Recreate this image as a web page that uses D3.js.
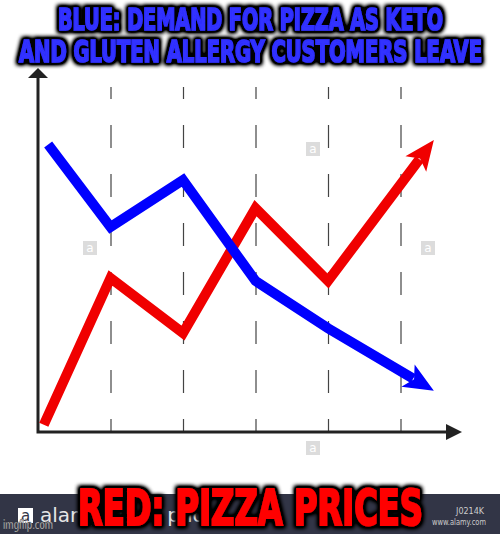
<!DOCTYPE html>
<meta charset="utf-8">
<style>
    body { margin: 0; background: #fff; }
    svg { display: block; }
    .grid line { stroke: #444; stroke-width: 1.2; stroke-dasharray: 23, 26; stroke-dashoffset: 10; }
    .grid .domain { display: none; }
    .axis { fill: none; stroke: #222; stroke-width: 3; }
    .meme { font-family: Impact, "Liberation Sans Narrow", "DejaVu Sans Condensed", sans-serif; font-weight: bold; text-anchor: middle; }
</style>
<body>
<script src="https://cdn.jsdelivr.net/npm/d3@7"></script>
<script>
    // series (x in grid steps, y on a 0-100 scale)
    var blueX = [0.14, 1, 2, 3, 4, 5.46];
    var blueY = [79, 56.3, 69.2, 41.5, 28.5, 11.3];
    var redX = [0.08, 1, 2, 3, 4, 5.46];
    var redY = [2, 42.3, 27.2, 61.5, 41.5, 80.2];
    var gridTicks = [1, 2, 3, 4, 5];

    var topLines = ["BLUE: DEMAND FOR PIZZA AS KETO", "AND GLUTEN ALLERGY CUSTOMERS LEAVE"];
    var bottomLine = "RED: PIZZA PRICES";

    var width = 500, height = 534;

    var svg = d3.select("body").append("svg")
        .attr("width", width)
        .attr("height", height);

    var defs = svg.append("defs");
    var glow = defs.append("filter").attr("id", "halo")
        .attr("x", "-10%").attr("y", "-30%").attr("width", "120%").attr("height", "160%");
    glow.append("feMorphology").attr("in", "SourceAlpha").attr("operator", "dilate").attr("radius", 2).attr("result", "fat");
    glow.append("feGaussianBlur").attr("in", "fat").attr("stdDeviation", 2).attr("result", "blur");
    glow.append("feComponentTransfer").attr("in", "blur").attr("result", "dark")
        .append("feFuncA").attr("type", "linear").attr("slope", 1.8);
    var merge = glow.append("feMerge");
    merge.append("feMergeNode").attr("in", "dark");
    merge.append("feMergeNode").attr("in", "SourceGraphic");

    var x = d3.scaleLinear().domain([0, 5]).range([38, 400.5]);
    var y = d3.scaleLinear().domain([0, 100]).range([432, 68]);

    // faint stock-photo watermarks
    var marks = [[90, 248], [313, 149], [428, 248], [313, 448]];
    var wm = svg.append("g").selectAll("g").data(marks).enter().append("g")
        .attr("transform", d => `translate(${d[0] - 7},${d[1] - 7})`);
    wm.append("rect").attr("width", 14).attr("height", 14).attr("fill", "#dcdcdc");
    wm.append("text").attr("x", 7).attr("y", 11).attr("text-anchor", "middle")
        .attr("font-family", "DejaVu Sans, sans-serif").attr("font-size", 12).attr("fill", "#fff").text("a");

    // dashed verticals (also the ticks on the x axis)
    svg.append("g")
        .attr("class", "grid")
        .attr("transform", "translate(0," + y(0) + ")")
        .call(d3.axisBottom(x).tickValues(gridTicks).tickSize(-(y(0) - 87)).tickFormat(""));

    // axes with arrows
    var x0 = x(0), y0 = y(0);
    svg.append("path").attr("class", "axis").attr("d", `M${x0},${y0 + 1.5}V${y(100) + 8}M${x0 - 1.5},${y0}H447`);
    svg.append("path").attr("fill", "#222").attr("d", `M${x0},${y(100)}L${x0 + 10},${y(100) + 10}L${x0 - 10},${y(100) + 10}Z`);
    svg.append("path").attr("fill", "#222").attr("d", `M462,${y0}L446,${y0 - 8}L446,${y0 + 8}Z`);

    function drawSeries(xs, ys, color) {
        var pts = xs.map((v, i) => [x(v), y(ys[i])]);
        var tip = pts[pts.length - 1], prev = pts[pts.length - 2];
        var dx = tip[0] - prev[0], dy = tip[1] - prev[1], len = Math.hypot(dx, dy);
        var ux = dx / len, uy = dy / len, nx = -uy, ny = ux;
        var L = 30, W = 13, N = 7;
        var linePts = pts.slice(0, -1);
        linePts.push([tip[0] - (L - N + 1) * ux, tip[1] - (L - N + 1) * uy]);

        svg.append("path")
            .attr("d", d3.line()(linePts))
            .attr("fill", "none")
            .attr("stroke", color)
            .attr("stroke-width", 10)
            .attr("stroke-linejoin", "miter");

        var head = [
            tip,
            [tip[0] - L * ux + W * nx, tip[1] - L * uy + W * ny],
            [tip[0] - (L - N) * ux, tip[1] - (L - N) * uy],
            [tip[0] - L * ux - W * nx, tip[1] - L * uy - W * ny]
        ];
        svg.append("path").attr("d", d3.line()(head) + "Z").attr("fill", color);
    }

    drawSeries(redX, redY, "#f00000");
    drawSeries(blueX, blueY, "#0000ff");

    // footer bar of the stock image
    var foot = svg.append("g");
    foot.append("rect").attr("x", 0).attr("y", 494).attr("width", width).attr("height", 40).attr("fill", "#323546");
    foot.append("rect").attr("x", 18).attr("y", 508).attr("width", 15).attr("height", 15).attr("fill", "#fff");
    foot.append("text").attr("x", 25.5).attr("y", 521).attr("text-anchor", "middle")
        .attr("font-family", "DejaVu Sans, sans-serif").attr("font-size", 15).attr("fill", "#323546").text("a");
    foot.append("text").attr("x", 40).attr("y", 522)
        .attr("font-family", "DejaVu Sans, sans-serif").attr("font-size", 20).attr("fill", "#e6e6e6").text("alamy stock photo");
    foot.append("text").attr("x", 470).attr("y", 514).attr("text-anchor", "middle")
        .attr("font-family", "DejaVu Sans, sans-serif").attr("font-size", 8).attr("fill", "#ccc").text("J0214K");
    foot.append("text").attr("x", 432).attr("y", 525).attr("textLength", 54).attr("lengthAdjust", "spacingAndGlyphs")
        .attr("font-family", "DejaVu Sans, sans-serif").attr("font-size", 9).attr("fill", "#ccc").text("www.alamy.com");
    foot.append("text").attr("x", 3).attr("y", 529).attr("textLength", 50).attr("lengthAdjust", "spacingAndGlyphs")
        .attr("font-family", "DejaVu Sans, sans-serif").attr("font-size", 12).attr("fill", "#fff")
        .attr("stroke", "#222").attr("stroke-width", 0.4).text("imgflip.com");

    // captions
    var topWidths = [385, 463];
    svg.append("g").selectAll("text").data(topLines).enter().append("text")
        .attr("class", "meme")
        .attr("x", 250.5)
        .attr("y", (d, i) => 30 + i * 32)
        .attr("font-size", 31)
        .attr("textLength", (d, i) => topWidths[i])
        .attr("lengthAdjust", "spacingAndGlyphs")
        .attr("fill", "#3030ff")
        .attr("stroke", "#3030ff")
        .attr("stroke-width", 1.6)
        .attr("filter", "url(#halo)")
        .text(d => d);

    svg.append("text")
        .attr("class", "meme")
        .attr("x", 250.5)
        .attr("y", 525)
        .attr("font-size", 50)
        .attr("textLength", 345)
        .attr("lengthAdjust", "spacingAndGlyphs")
        .attr("fill", "#ff0000")
        .attr("stroke", "#ff0000")
        .attr("stroke-width", 2)
        .attr("filter", "url(#halo)")
        .text(bottomLine);
</script>
</body>
